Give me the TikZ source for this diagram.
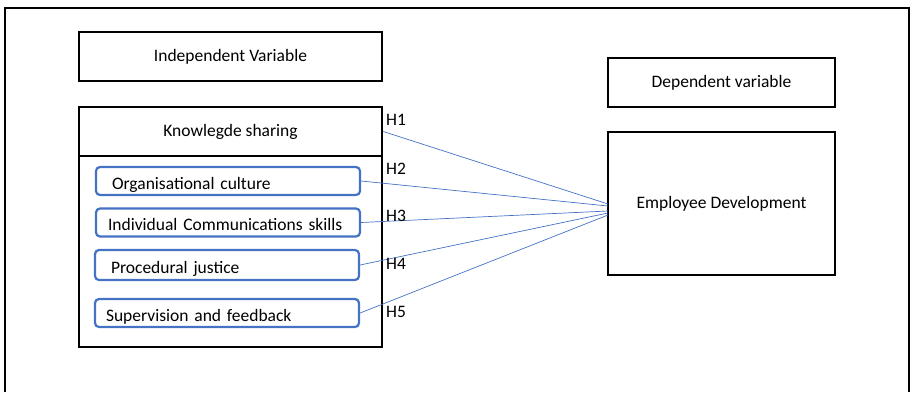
\documentclass[tikz,border=0pt]{standalone}
\usepackage{fontspec}
\setmainfont{Carlito}
\definecolor{officeblue}{RGB}{68,114,196}
\begin{document}
\begin{tikzpicture}[x=1pt, y=-1pt, font=\fontsize{17.5}{20}\selectfont,
    var box/.style={draw, line width=2.6pt, minimum width=303pt, inner sep=0pt},
    factor box/.style={draw=officeblue, line width=2.2pt, rounded corners=4pt, minimum width=264pt, minimum height=28pt, text width=242pt, align=left, inner xsep=11pt, text height=16pt, text depth=0pt},
    hyp label/.style={anchor=west, inner sep=0pt},
    hyp line/.style={draw=officeblue, line width=0.7pt}]
    \useasboundingbox (0,0) rectangle (910,392);
    \draw[line width=1.3pt] (5,392) -- (5,8) -- (909,8) -- (909,392);

    % left side
    \node[var box, minimum height=49pt] at (230.5, 56.5) (indep) {Independent Variable};
    \node[var box, minimum height=191pt] at (230.5, 251.5) (group) {};
    \node[var box, minimum height=49pt] at (230.5, 131.5) (ks) {Knowlegde sharing};

    \node[factor box] at (228, 181) (org) {\hspace{5pt}Organisational culture};
    \node[factor box] at (228, 222.5) (ind) {\hspace{1pt}Individual Communications skills};
    \node[factor box, minimum height=30pt] at (227, 265) (proc) {\hspace{5pt}Procedural justice};
    \node[factor box] at (227, 313) (sup) {Supervision and feedback};

    % right side
    \node[var box, minimum width=227pt, minimum height=49pt] at (721.5, 82.5) (dep) {Dependent variable};
    \node[var box, minimum width=227pt, minimum height=143pt] at (721.5, 203.5) (emp) {Employee Development};

    \coordinate (e1) at (608, 204);
    \coordinate (e2) at (608, 206);
    \coordinate (e3) at (608, 211);
    \coordinate (e4) at (608, 213);
    \coordinate (e5) at (608, 215);

    \path (ks.east) edge[hyp line] (e1);
    \path (org.east) edge[hyp line] (e2);
    \path (ind.east) edge[hyp line] (e3);
    \path (proc.east) edge[hyp line] (e4);
    \path (sup.east) edge[hyp line] (e5);

    \node[hyp label] at (386, 120) (h1) {H1};
    \node[hyp label] at (386, 169) (h2) {H2};
    \node[hyp label] at (386, 216) (h3) {H3};
    \node[hyp label] at (386, 264) (h4) {H4};
    \node[hyp label] at (386, 312) (h5) {H5};
\end{tikzpicture}
\end{document}
